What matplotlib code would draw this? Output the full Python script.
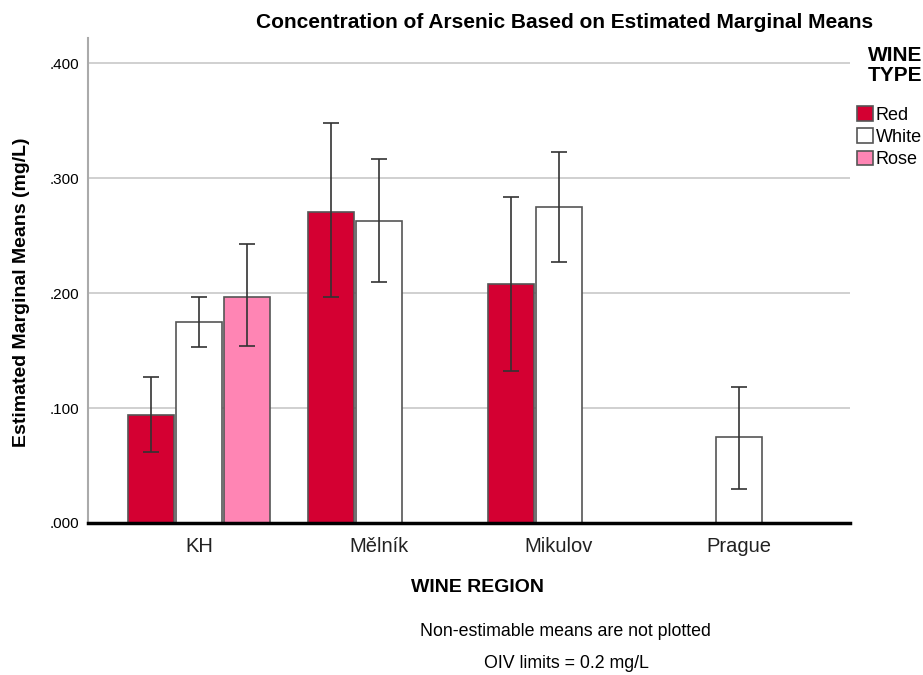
import numpy as np
import matplotlib.pyplot as plt

plt.rcParams['font.family'] = ['Liberation Sans', 'DejaVu Sans']

regions = ['KH', 'Mělník', 'Mikulov', 'Prague']
types = ['Red', 'White', 'Rose']
colors = ['#d40032', '#ffffff', '#ff85b4']

# means and 95% CI bounds per wine type (NaN = non-estimable)
red_mean = [0.094, 0.271, 0.208, np.nan]
red_lo = [0.062, 0.197, 0.132, np.nan]
red_hi = [0.127, 0.348, 0.284, np.nan]

white_mean = [0.175, 0.263, 0.275, 0.075]
white_lo = [0.153, 0.210, 0.227, 0.030]
white_hi = [0.197, 0.317, 0.323, 0.118]

rose_mean = [0.197, np.nan, np.nan, np.nan]
rose_lo = [0.154, np.nan, np.nan, np.nan]
rose_hi = [0.243, np.nan, np.nan, np.nan]

means = [red_mean, white_mean, rose_mean]
lows = [red_lo, white_lo, rose_lo]
highs = [red_hi, white_hi, rose_hi]

fig = plt.figure(figsize=(9.23, 6.75), dpi=100)
ax = fig.add_axes([0.0953, 0.2252, 0.8257, 0.7185])

x = np.arange(len(regions))
slot = 48 / 180
width = 46 / 180
for i, t in enumerate(types):
    m = np.array(means[i])
    lo = np.array(lows[i])
    hi = np.array(highs[i])
    pos = x + (i - 1) * slot
    ok = ~np.isnan(m)
    ax.bar(pos[ok], m[ok], width, color=colors[i], edgecolor='#555555',
           linewidth=1.2, label=t, zorder=2)
    ax.errorbar(pos[ok], m[ok], yerr=[m[ok] - lo[ok], hi[ok] - m[ok]],
                fmt='none', ecolor='#333333', elinewidth=1.2, capsize=6,
                capthick=1.2, zorder=3)

ax.set_xlim(-0.617, 3.617)
ax.set_ylim(0, 0.422)
ax.set_yticks([0, 0.1, 0.2, 0.3, 0.4])
ax.set_yticklabels(['.000', '.100', '.200', '.300', '.400'], fontsize=11)
ax.set_xticks(x)
ax.set_xticklabels(regions, fontsize=14.5, color='#222222')
ax.tick_params(axis='x', length=0, pad=10)
ax.tick_params(axis='y', length=0, pad=6)
ax.yaxis.grid(True, color='#c8c8c8', linewidth=1.2, zorder=0)
ax.set_axisbelow(True)
for s in ['top', 'right']:
    ax.spines[s].set_visible(False)
ax.spines['left'].set_color('#aaaaaa')
ax.spines['left'].set_linewidth(1.5)
ax.spines['bottom'].set_color('black')
ax.spines['bottom'].set_linewidth(2.5)
ax.spines['bottom'].set_zorder(4)

fig.text(22 / 923, 1 - 292 / 675, 'Estimated Marginal Means (mg/L)', rotation=90,
         ha='center', va='center', fontsize=14, fontweight='bold')
fig.text(478 / 923, 1 - 587 / 675, 'WINE REGION', ha='center', va='center',
         fontsize=14, fontweight='bold')

fig.text(565 / 923, 1 - 22 / 675, 'Concentration of Arsenic Based on Estimated Marginal Means',
         ha='center', va='center', fontsize=15, fontweight='bold')
fig.text(565 / 923, 1 - 631 / 675, 'Non-estimable means are not plotted',
         ha='center', va='center', fontsize=12.8)
fig.text(566 / 923, 1 - 663 / 675, 'OIV limits = 0.2 mg/L',
         ha='center', va='center', fontsize=12.8)

leg = ax.legend(title='WINE\nTYPE', loc='upper left', bbox_to_anchor=(857 / 923, 1 - 46 / 675),
                bbox_transform=fig.transFigure, frameon=False, fontsize=13,
                handlelength=0.9, handleheight=0.9, handletextpad=0.15,
                labelspacing=0.25, borderaxespad=0.0, borderpad=0.0)
leg.get_title().set_fontweight('bold')
leg.get_title().set_fontsize(15)
leg.get_title().set_linespacing(1.08)
leg._legend_box.align = 'right'
leg._legend_box.sep = 15

fig.savefig('out.png', dpi=100)
